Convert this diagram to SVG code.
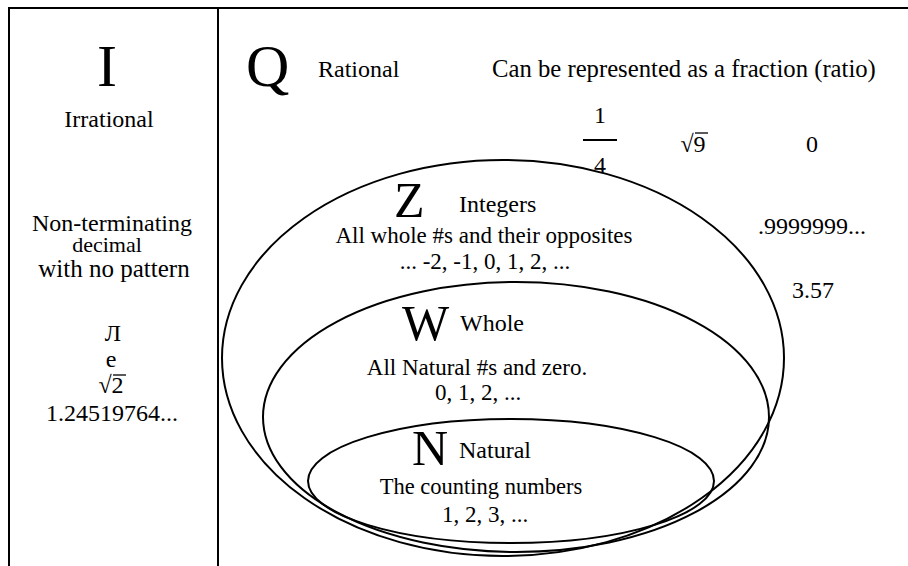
<svg xmlns="http://www.w3.org/2000/svg" width="908" height="566" viewBox="0 0 908 566">
<style>
text{font-family:"Liberation Serif","Times New Roman",serif;fill:#000}
.t{font-size:24px}
.s{font-size:23px}
.c{text-anchor:middle}
.big{font-size:60px}
.mid{font-size:50px}
.ln{stroke:#000;stroke-width:2;fill:none}
.el{stroke:#000;stroke-width:2;fill:none}
.bar{stroke:#000;stroke-width:1.3}
</style>
<rect width="908" height="566" fill="#fff"/>
<g id="frame">
<line class="ln" x1="9" y1="8" x2="908" y2="8"/>
<line class="ln" x1="9" y1="7" x2="9" y2="566"/>
<line class="ln" x1="218" y1="8" x2="218" y2="566"/>
</g>
<g id="irrational">
<text class="big c" x="107" y="86">I</text>
<text class="t c" x="109" y="127">Irrational</text>
<text class="t c" x="112" y="231">Non-terminating</text>
<text class="c" style="font-size:22px" x="107" y="252">decimal</text>
<text class="c" style="font-size:25px" x="114" y="277">with no pattern</text>
<text class="t c" x="113" y="341">Л</text>
<text class="t c" x="111" y="367">e</text>
<text class="t c" x="111" y="393">√2</text>
<line class="bar" x1="113" y1="375" x2="126" y2="375"/>
<text class="t c" x="112" y="421">1.24519764...</text>
</g>
<g id="rational">
<text class="big" x="246" y="86">Q</text>
<text class="t" x="318" y="77">Rational</text>
<text class="t" x="492" y="77" style="font-size:24.7px">Can be represented as a fraction (ratio)</text>
<text class="t c" x="600" y="123">1</text>
<line x1="583" y1="140" x2="617" y2="140" stroke="#000" stroke-width="2"/>
<text class="t c" x="600" y="173">4</text>
<text class="t c" x="693" y="152">√9</text>
<line class="bar" x1="695" y1="133" x2="708" y2="133"/>
<text class="t c" x="812" y="152">0</text>
<text class="t" x="758" y="234">.9999999...</text>
<text class="t c" x="813" y="298">3.57</text>
</g>
<g id="integers">
<ellipse class="el" cx="503" cy="358" rx="281" ry="198"/>
<text class="mid" x="394" y="217">Z</text>
<text class="t" x="459" y="212">Integers</text>
<text class="s c" x="484" y="243">All whole #s and their opposites</text>
<text class="s c" x="485" y="269">... -2, -1, 0, 1, 2, ...</text>
</g>
<g id="whole">
<ellipse class="el" cx="516" cy="417" rx="253" ry="135"/>
<text class="mid" x="402" y="340">W</text>
<text class="t" x="460" y="331">Whole</text>
<text class="s c" x="477" y="375">All Natural #s and zero.</text>
<text class="s c" x="478" y="400">0, 1, 2, ...</text>
</g>
<g id="natural">
<ellipse class="el" cx="511" cy="481" rx="203" ry="62"/>
<text class="mid" x="412" y="465">N</text>
<text class="t" x="459" y="458">Natural</text>
<text class="c" style="font-size:22.5px" x="481" y="494">The counting numbers</text>
<text class="s c" x="485" y="522">1, 2, 3, ...</text>
</g>
<g id="connectors"/>
</svg>
